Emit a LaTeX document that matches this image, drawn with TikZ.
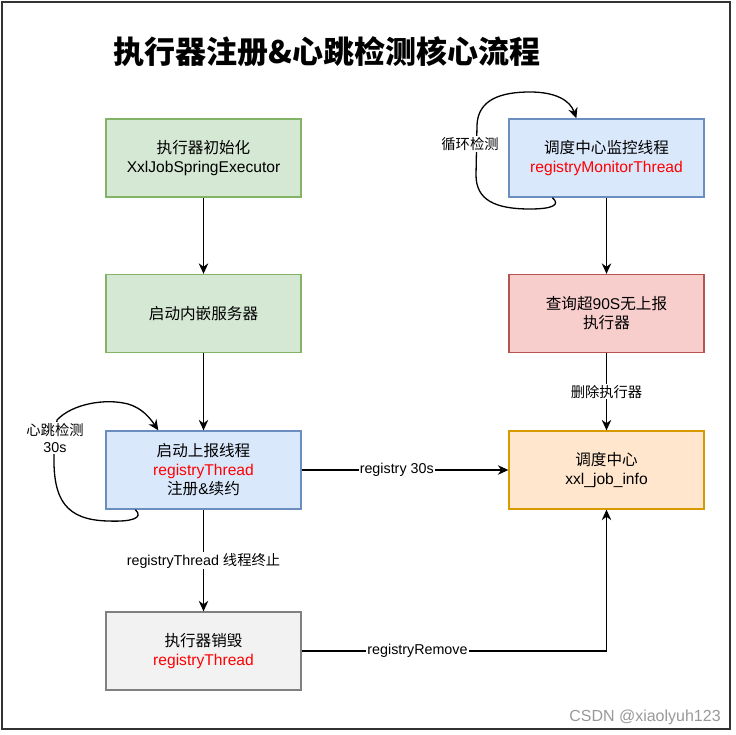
\documentclass[tikz,border=0pt]{standalone}
\usepackage{fontspec}
\setmainfont{Liberation Sans}
\newfontfamily\cjk{Noto Sans CJK SC}
\usetikzlibrary{arrows.meta,calc}
\definecolor{gfill}{HTML}{D5E8D4}\definecolor{gline}{HTML}{82B366}
\definecolor{bfill}{HTML}{DAE8FC}\definecolor{bline}{HTML}{6C8EBF}
\definecolor{rfill}{HTML}{F8CECC}\definecolor{rline}{HTML}{B85450}
\definecolor{ofill}{HTML}{FFE6CC}\definecolor{oline}{HTML}{D79B00}
\definecolor{yfill}{HTML}{F2F2F2}\definecolor{yline}{HTML}{808080}
\definecolor{framec}{HTML}{333333}
\begin{document}
\begin{tikzpicture}[x=1pt,y=-1pt,
  box/.style={draw, line width=1.3pt, minimum width=195pt, minimum height=78pt, inner sep=0pt, align=center, font=\fontsize{15.6}{19}\selectfont},
  greenbox/.style={box, fill=gfill, draw=gline},
  bluebox/.style={box, fill=bfill, draw=bline},
  redbox/.style={box, fill=rfill, draw=rline},
  orangebox/.style={box, fill=ofill, draw=oline},
  graybox/.style={box, fill=yfill, draw=yline},
  conn/.style={line width=1.3pt, black},
  arr/.style={conn, -{Stealth[length=10.5pt,width=9.5pt]}},
  lbl/.style={fill=white, inner sep=1pt, align=center, font=\fontsize{14.3}{17}\selectfont}]
\useasboundingbox (0,0) rectangle (736,735);
\fill[white] (0,0) rectangle (736,735);
\draw[framec, line width=2pt] (2,2) rectangle (730,729);

\node (title) at (327,52) {\fontsize{31}{36}\selectfont\cjk\bfseries 执行器注册\&心跳检测核心流程};

\node[greenbox] (A) at (203.5,158) {{\cjk 执行器初始化}\\XxlJobSpringExecutor};
\node[greenbox] (B) at (203.5,313.5) {\cjk 启动内嵌服务器};
\node[bluebox] (C) at (203.5,470) {{\cjk 启动上报线程}\\\textcolor{red}{registryThread}\\{\cjk 注册}\&{\cjk 续约}};
\node[graybox] (D) at (203.5,651) {{\cjk 执行器销毁}\\\textcolor{red}{registryThread}};
\node[bluebox] (E) at (606.5,158) {{\cjk 调度中心监控线程}\\\textcolor{red}{registryMonitorThread}};
\node[redbox] (F) at (606.5,313.5) {{\cjk 查询超}90S{\cjk 无上报}\\{\cjk 执行器}};
\node[orangebox] (G) at (606.5,470) {{\cjk 调度中心}\\xxl\_job\_info};

\draw[arr] (A) -- (B);
\draw[arr] (B) -- (C);
\draw[arr] (C) -- node[lbl]{registryThread {\cjk 线程终止}} (D);
\draw[arr] (C) -- node[lbl,pos=0.46]{registry 30s} (G);
\draw[arr] (E) -- (F);
\draw[arr] (F) -- node[lbl]{\cjk 删除执行器} (G);
\draw[arr] (D.east) -| (G.south) node[lbl,pos=0.19]{registryRemove};

% self loop on C
\draw[arr] ([xshift=30pt]C.south west) .. controls (144,518) and (132,522) .. (108,521)
  .. controls (66,520) and (53,500) .. (54,455) -- (57,420)
  .. controls (72,404) and (105,398) .. (128,404)
  .. controls (142,408) and (150,418) .. ([xshift=53pt]C.north west);
\node[lbl, font=\fontsize{14.3}{17}\selectfont] (L1) at (55,438) {{\cjk 心跳检测}\\30s};

% self loop on E
\draw[arr] ([xshift=44pt]E.south west) .. controls (561,205) and (552,209) .. (530,209)
  .. controls (495,209) and (476,200) .. (476,175) -- (477,125)
  .. controls (478,100) and (500,92) .. (530,92)
  .. controls (555,92) and (570,100) .. ([xshift=68pt]E.north west);
\node[lbl] (L2) at (470,144) {\cjk 循环检测};

\node[text=black!40, font=\fontsize{16}{19}\selectfont, inner sep=0pt] (wm) at (645,717) {CSDN @xiaolyuh123};
\end{tikzpicture}
\end{document}
